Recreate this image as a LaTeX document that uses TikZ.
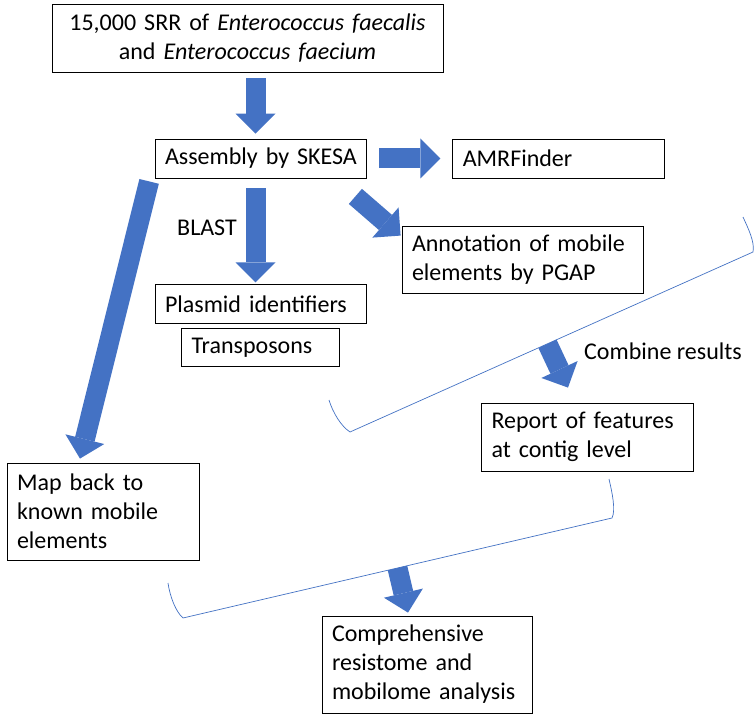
\documentclass[tikz,border=0pt]{standalone}
\usepackage{fontspec}
\setmainfont{Carlito}
\usetikzlibrary{positioning,arrows.meta,calc}
\definecolor{blkblue}{HTML}{4472C4}

\tikzset{
  box/.style={draw, line width=0.8pt, inner xsep=10pt, inner ysep=0pt, align=left, font=\fontsize{24}{29}\selectfont},
  lbl/.style={inner sep=0pt, font=\fontsize{24}{29}\selectfont},
  blk/.style={draw=blkblue, line width=20pt, -{Triangle[length=20pt,width=40pt,line width=0pt]}},
  brace/.style={draw=blkblue, line width=0.7pt},
}

\begin{document}
\begin{tikzpicture}[x=1pt, y=-1pt]
        \useasboundingbox[fill=white] (0,0) rectangle (756,722);

        \node[box, align=center, text width=371pt, minimum height=68pt] (srr) at (247.5,38)
            {15,000 SRR of \textit{Enterococcus faecalis}\\ and \textit{Enterococcus faecium}};
        \node[box, text width=191pt, minimum height=39pt] (asm) at (260.5,158.5) {Assembly~by~SKESA};
        \node[box, text width=192pt, minimum height=39pt, right=86pt of asm] (amr) {AMRFinder};
        \node[box, text width=191pt, minimum height=39pt, below=106pt of asm] (plasmid) {Plasmid~identifiers};
        \node[box, text width=138pt, minimum height=38pt, below=4pt of plasmid] (trans) {Transposons};
        \node[box, text width=221pt, minimum height=67pt] (annot) at (522.5,259.5) {Annotation of mobile\\ elements by PGAP};
        \node[box, text width=192pt, minimum height=68pt] (report) at (587.5,437) {Report of features\\ at contig level};
        \node[box, text width=172pt, minimum height=97pt] (map) at (103,511.5) {Map back to\\ known mobile\\ elements};
        \node[box, text width=190pt, minimum height=97pt] (comp) at (427,664.5) {Comprehensive\\ resistome and\\ mobilome analysis};

        \node[lbl, anchor=east] (blast) at (237,228) {BLAST};
        \node[lbl, anchor=west] (combine) at (584,351) {Combine results};

        % brackets
        \coordinate (brT) at (743,217);
        \coordinate (brA) at (753,252);
        \coordinate (brB) at (350,432);
        \coordinate (brL) at (329,400);
        \draw[brace] (brT) .. controls (748,228) and (755,242) .. (brA) -- (brB)
            .. controls (341,426) and (333,413) .. (brL);

        \coordinate (lbT) at (609,479);
        \coordinate (lbA) at (612,518);
        \coordinate (lbB) at (183,618);
        \coordinate (lbL) at (168,583);
        \draw[brace] (lbT) .. controls (612,492) and (616,510) .. (lbA) -- (lbB)
            .. controls (176,612) and (170,597) .. (lbL);

        \coordinate (cmb) at ($(brA)!0.51!(brB)$);
        \coordinate (fin) at ($(lbA)!0.5!(lbB)$);

        % block arrows
        \draw[blk, shorten <=6pt, shorten >=5pt] ([xshift=-5pt]asm.north |- srr.south) -- ([xshift=-5pt]asm.north);
        \draw[blk, shorten <=13pt, shorten >=12pt] (asm) -- (amr);
        \draw[blk, shorten <=10pt, shorten >=2pt] ([xshift=-5pt]asm.south) -- ([xshift=-5pt]plasmid.north);
        \draw[blk] ([xshift=-11pt,yshift=-18pt]asm.south east) -- ([xshift=-1pt,yshift=-10pt]annot.north west);
        \draw[blk] ([xshift=-5.5pt,yshift=-3pt]asm.south west) -- ([xshift=-23pt,yshift=4pt]map.north);
        \draw[blk] (cmb) -- ([xshift=-19.5pt,yshift=15pt]report.north);
        \draw[blk] (fin) -- ([xshift=-19pt,yshift=3pt]comp.north);

\end{tikzpicture}
\end{document}
